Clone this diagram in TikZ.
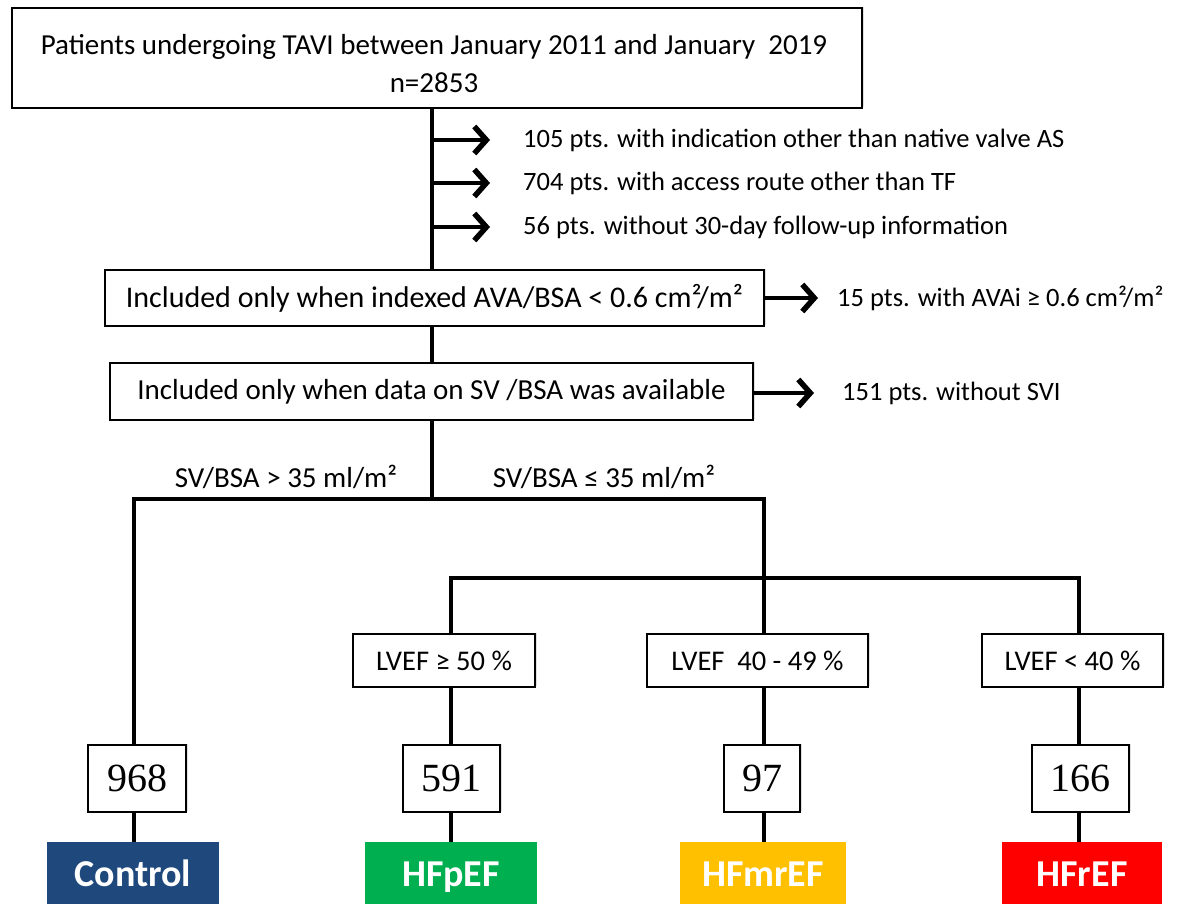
\documentclass[tikz,border=0pt]{standalone}
\usepackage{fontspec}
\setmainfont{Carlito}
\newfontfamily\numfont{Liberation Serif}
\usetikzlibrary{arrows.meta,shadows}
\definecolor{ctrlblue}{HTML}{1F497D}
\definecolor{hfgreen}{HTML}{00B050}
\definecolor{hforange}{HTML}{FFC000}
\definecolor{hfred}{HTML}{FF0000}
\tikzset{
  box/.style={draw=black, line width=1.5pt, fill=white, inner sep=0pt, align=center,
    drop shadow={opacity=0.25, shadow xshift=1.5pt, shadow yshift=1.5pt}},
  numbox/.style={box, font=\numfont\fontsize{40}{44}\selectfont},
  lvbox/.style={box, minimum height=53pt, font=\fontsize{28.5}{32}\selectfont},
  grpbox/.style={fill=#1, inner sep=0pt, minimum height=62pt, text=white,
    text height=29pt, text depth=2pt,
    font=\bfseries\fontsize{38}{42}\selectfont},
  conn/.style={line width=4pt},
  excl/.style={line width=4pt, -{Straight Barb[length=12pt,width=27pt,line width=5.5pt]}},
  exctext/.style={anchor=west, inner sep=0pt, font=\fontsize{26.5}{30}\selectfont},
  lbl/.style={inner sep=0pt, font=\fontsize{29}{32}\selectfont}
}
\begin{document}
\begin{tikzpicture}[x=1pt,y=-1pt]
\useasboundingbox (0,0) rectangle (1183,903);
% main boxes
\node[box, minimum width=850pt, minimum height=100pt] (top) at (437,58) {};
\node[inner sep=0pt, align=center, font=\fontsize{29}{38}\selectfont] (toptext) at (434,64)
  {Patients undergoing TAVI between January 2011 and January\ \ 2019\\ n=2853};
\node[box, minimum width=659pt, minimum height=56pt, font=\fontsize{30}{32}\selectfont] (b2) at (434.5,298)
  {Included only when indexed AVA/BSA < 0.6 cm²/m²};
\node[box, minimum width=643pt, minimum height=57pt, font=\fontsize{29}{32}\selectfont] (b3) at (431.5,391.5)
  {Included only when data on SV /BSA was available};
% exclusion coordinates
\coordinate (e1) at (432,140);
\coordinate (e2) at (432,183);
\coordinate (e3) at (432,227);
\node[exctext] (t1) at (523,140) {105 pts. with indication other than native valve AS};
\node[exctext] (t2) at (523,183) {704 pts. with access route other than TF};
\node[exctext] (t3) at (523,227) {56 pts. without 30-day follow-up information};
\node[exctext] (t4) at (837,298) {15 pts. with AVAi ≥ 0.6 cm²/m²};
\node[exctext] (t5) at (842,393) {151 pts. without SVI};
\coordinate (a1) at (490,140);
\coordinate (a2) at (490,183);
\coordinate (a3) at (490,227);
\coordinate (a4) at (818,298);
\coordinate (a5) at (814,393);
% junctions
\coordinate (j1) at (432,499);
\coordinate (j2) at (764,578);
% labels
\node[lbl] (l1) at (286,477) {SV/BSA > 35 ml/m²};
\node[lbl] (l2) at (604,477) {SV/BSA ≤ 35 ml/m²};
% LVEF boxes
\node[lvbox, minimum width=182pt] (v1) at (444,660.5) {LVEF ≥ 50 \%};
\node[lvbox, minimum width=221pt] (v2) at (757.5,660.5) {LVEF\ \ 40 - 49 \%};
\node[lvbox, minimum width=181pt] (v3) at (1072.5,660.5) {LVEF < 40 \%};
% number boxes
\node[numbox, minimum width=98pt, minimum height=67pt] (n1) at (137,778.5) {968};
\node[numbox, minimum width=97pt, minimum height=67pt] (n2) at (451.5,778.5) {591};
\node[numbox, minimum width=76pt, minimum height=67pt] (n3) at (762,778.5) {97};
\node[numbox, minimum width=97pt, minimum height=67pt] (n4) at (1080.5,778.5) {166};
% group boxes
\node[grpbox=ctrlblue, minimum width=172pt] (g1) at (133,873) {Control};
\node[grpbox=hfgreen, minimum width=172pt] (g2) at (451,873) {HFpEF};
\node[grpbox=hforange, minimum width=166pt] (g3) at (763,873) {HFmrEF};
\node[grpbox=hfred, minimum width=160pt] (g4) at (1082,873) {HFrEF};
% connectors
\draw[conn] (top.south -| e1) -- (b2.north -| e1);
\draw[conn] (b2.south -| e1) -- (b3.north -| e1);
\draw[conn] (b3.south -| e1) -- (j1);
\draw[excl] (e1) -- (a1);
\draw[excl] (e2) -- (a2);
\draw[excl] (e3) -- (a3);
\draw[excl] (b2.east) -- (a4);
\draw[excl] (b3.east |- a5) -- (a5);
\draw[conn, line join=miter] (n1.north -| 134,0) |- (j1) -| (j2);
\draw[conn, line join=miter] (v1.north -| 451,0) |- (j2) -| (v3.north -| 1079,0);
\draw[conn] (j2) -- (v2.north -| j2);
\draw[conn] (v1.south -| 451,0) -- (n2.north -| 451,0);
\draw[conn] (v2.south -| j2) -- (n3.north -| j2);
\draw[conn] (v3.south -| 1079,0) -- (n4.north -| 1079,0);
\draw[conn] (n1.south -| 134,0) -- (g1.north -| 134,0);
\draw[conn] (n2.south -| 451,0) -- (g2.north -| 451,0);
\draw[conn] (n3.south -| j2) -- (g3.north -| j2);
\draw[conn] (n4.south -| 1079,0) -- (g4.north -| 1079,0);
\end{tikzpicture}
\end{document}
